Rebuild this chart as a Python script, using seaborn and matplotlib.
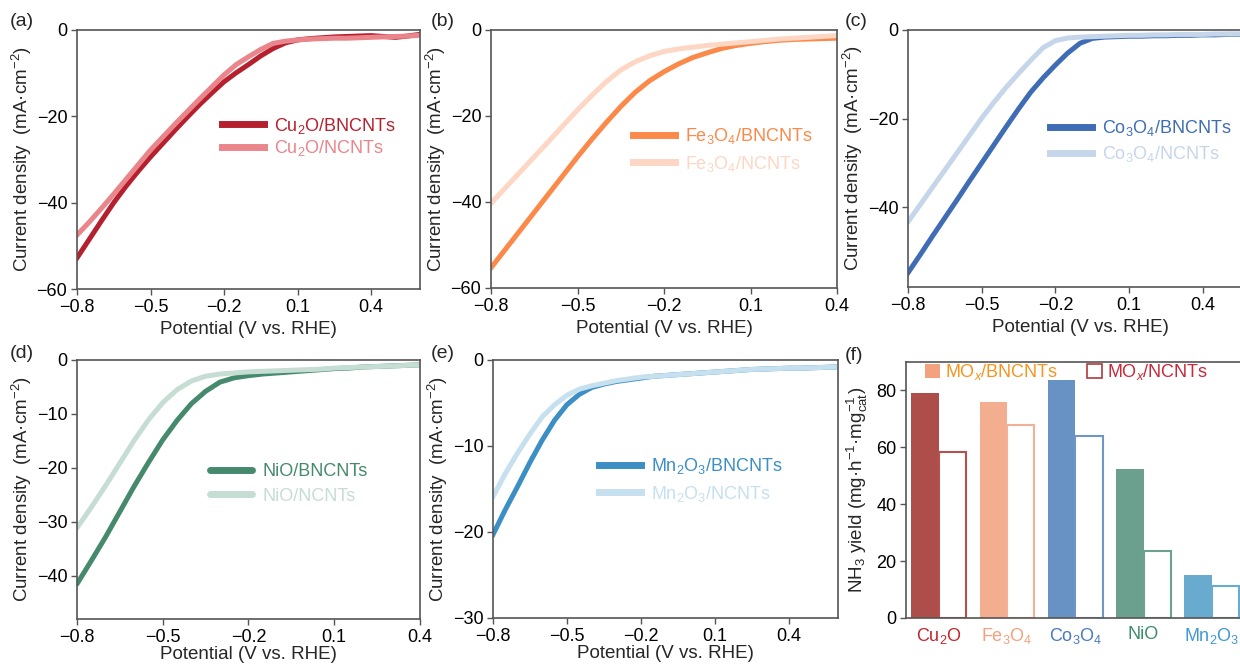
import numpy as np
import pandas as pd
import matplotlib
matplotlib.use("Agg")
import matplotlib.pyplot as plt
import seaborn as sns
from matplotlib.patches import Patch

# ---------------- data ----------------
POT_WIDE = [-0.80, -0.75, -0.70, -0.65, -0.60, -0.55, -0.50, -0.45, -0.40, -0.35,
            -0.30, -0.25, -0.20, -0.15, -0.10, -0.05, 0.00, 0.05, 0.10, 0.15,
            0.20, 0.25, 0.30, 0.35, 0.40, 0.45, 0.50, 0.55, 0.60]
POT_NARROW = [-0.80, -0.75, -0.70, -0.65, -0.60, -0.55, -0.50, -0.45, -0.40, -0.35,
              -0.30, -0.25, -0.20, -0.15, -0.10, -0.05, 0.00, 0.05, 0.10, 0.15,
              0.20, 0.25, 0.30, 0.35, 0.40]

CU_BN = [-52.8, -48.5, -44.2, -40.0, -36.2, -32.7, -29.4, -26.3, -23.2, -20.2,
         -17.3, -14.6, -12.0, -9.9, -8.0, -6.0, -4.3, -3.0, -2.3, -2.0,
         -1.8, -1.6, -1.5, -1.4, -1.3, -1.5, -1.7, -1.4, -1.0]
CU_N = [-47.5, -44.5, -41.3, -38.0, -34.6, -31.2, -27.8, -24.8, -21.8, -18.9,
        -16.0, -13.2, -10.4, -8.0, -6.2, -4.5, -3.1, -2.6, -2.3, -2.1,
        -2.0, -1.9, -1.9, -1.8, -1.7, -1.6, -1.5, -1.4, -1.2]

FE_BN = [-55.3, -51.0, -46.7, -42.4, -38.1, -33.8, -29.5, -25.4, -21.5, -17.8,
         -14.5, -11.8, -9.7, -7.9, -6.4, -5.3, -4.3, -3.6, -3.1, -2.7,
         -2.4, -2.2, -2.1, -2.0, -1.9]
FE_N = [-40.3, -36.7, -33.1, -29.5, -25.9, -22.2, -18.6, -15.2, -12.0, -9.3,
        -7.4, -6.0, -5.0, -4.4, -4.0, -3.6, -3.3, -3.0, -2.7, -2.4,
        -2.1, -1.9, -1.7, -1.5, -1.3]

CO_BN = [-54.8, -50.7, -46.5, -42.4, -38.3, -34.1, -30.0, -25.9, -21.8, -17.8,
         -14.0, -10.8, -7.9, -5.2, -3.0, -1.9, -1.6, -1.5, -1.4, -1.4,
         -1.3, -1.3, -1.2, -1.2, -1.1, -1.1, -1.0, -1.0, -1.0]
CO_N = [-43.3, -39.4, -35.5, -31.6, -27.7, -23.8, -19.9, -16.3, -12.9, -9.8,
        -6.8, -4.0, -2.4, -1.8, -1.6, -1.5, -1.4, -1.3, -1.2, -1.2,
        -1.1, -1.1, -1.0, -1.0, -1.0, -0.9, -0.9, -0.9, -0.8]

NI_BN = [-41.5, -37.2, -32.8, -28.1, -23.4, -19.0, -14.8, -11.2, -8.1, -5.8,
         -4.1, -3.3, -2.9, -2.6, -2.4, -2.2, -2.0, -1.8, -1.6, -1.5,
         -1.3, -1.2, -1.1, -1.0, -0.9]
NI_N = [-31.1, -27.3, -23.3, -19.1, -14.9, -11.1, -7.9, -5.5, -3.9, -3.0,
        -2.6, -2.4, -2.2, -2.1, -2.0, -1.9, -1.8, -1.7, -1.5, -1.4,
        -1.3, -1.2, -1.1, -1.0, -0.9]

MN_BN = [-20.3, -17.4, -14.7, -11.9, -9.3, -7.0, -5.2, -4.0, -3.2, -2.8,
         -2.5, -2.3, -2.1, -1.9, -1.8, -1.7, -1.6, -1.5, -1.4, -1.3,
         -1.2, -1.1, -1.05, -1.0, -0.95, -0.95, -0.9, -0.85, -0.8]
MN_N = [-15.9, -13.2, -10.8, -8.6, -6.6, -5.2, -4.1, -3.4, -3.0, -2.7,
        -2.4, -2.2, -2.0, -1.9, -1.8, -1.7, -1.6, -1.5, -1.4, -1.3,
        -1.2, -1.1, -1.05, -1.0, -0.95, -0.95, -0.9, -0.85, -0.8]

OXIDES = ["Cu$_\\mathregular{2}$O", "Fe$_\\mathregular{3}$O$_\\mathregular{4}$",
          "Co$_\\mathregular{3}$O$_\\mathregular{4}$", "NiO",
          "Mn$_\\mathregular{2}$O$_\\mathregular{3}$"]
YIELD_BN = [79.0, 76.0, 83.5, 52.5, 15.0]
YIELD_N = [58.5, 67.7, 64.1, 23.6, 11.3]

# ---------------- style ----------------
sns.set_theme(style="ticks")
plt.rcParams["font.family"] = ["Liberation Sans", "DejaVu Sans"]
plt.rcParams["mathtext.fontset"] = "custom"
plt.rcParams["mathtext.rm"] = "Liberation Sans"
plt.rcParams["mathtext.it"] = "Liberation Sans:italic"
plt.rcParams["mathtext.bf"] = "Liberation Sans:bold"
plt.rcParams["axes.unicode_minus"] = True

W, H = 1240, 665
fig = plt.figure(figsize=(W / 100, H / 100), dpi=100)
SPINE = "#555555"
FS = 13
LFS = 13.5


def add_ax(l, t, r, b):
    return fig.add_axes([l / W, 1 - b / H, (r - l) / W, (b - t) / H])


def style_ax(ax):
    for s in ["left", "bottom", "top", "right"]:
        ax.spines[s].set_color(SPINE)
        ax.spines[s].set_linewidth(1.2)
    ax.tick_params(direction="out", length=4, width=1.0, color=SPINE,
                   labelsize=FS, labelcolor="black", pad=3)


def curve_panel(ax, pot, bn, n, names, colors, xlim, ylim, xt, yt,
                leg_xy, lspace, xlabelpad=4, cap="projecting"):
    df = pd.DataFrame({
        "Potential": list(pot) + list(pot),
        "j": list(bn) + list(n),
        "Sample": [names[0]] * len(pot) + [names[1]] * len(pot),
    })
    sns.lineplot(data=df, x="Potential", y="j", hue="Sample",
                 hue_order=names, palette=dict(zip(names, colors)),
                 linewidth=3.6, errorbar=None, ax=ax,
                 solid_capstyle=cap, solid_joinstyle="round")
    ax.set_xlim(*xlim)
    ax.set_ylim(*ylim)
    ax.set_xticks(xt)
    ax.set_xticklabels([f"{v:.1f}".replace("-", "\u2212") for v in xt])
    ax.set_yticks(yt)
    ax.set_yticklabels([f"{v:d}".replace("-", "\u2212") for v in yt])
    ax.set_xlabel("Potential (V vs. RHE)", fontsize=LFS, labelpad=xlabelpad)
    ax.set_ylabel("Current density  (mA\u00b7cm$^{\\mathregular{-2}}$)",
                  fontsize=LFS, labelpad=2)
    style_ax(ax)
    handles, labels = ax.get_legend_handles_labels()
    leg = ax.legend(handles, labels, loc="center left",
                    bbox_to_anchor=(leg_xy[0] / W, 1 - leg_xy[1] / H),
                    bbox_transform=fig.transFigure, frameon=False,
                    fontsize=FS, handlelength=2.3, handletextpad=0.6,
                    borderpad=0, borderaxespad=0, labelspacing=lspace)
    for t, c in zip(leg.get_texts(), colors):
        t.set_color(c)
    for ln in leg.get_lines():
        ln.set_linewidth(5)
        ln.set_solid_capstyle(cap)


XT = [-0.8, -0.5, -0.2, 0.1, 0.4]

# (a)
ax_a = add_ax(77, 30, 420, 289)
curve_panel(ax_a, POT_WIDE, CU_BN, CU_N,
            ["Cu$_\\mathregular{2}$O/BNCNTs", "Cu$_\\mathregular{2}$O/NCNTs"],
            ["#b5202e", "#e9858b"], (-0.8, 0.6), (-60, 0), XT,
            [0, -20, -40, -60], (222, 137), 0.15)

# (b)
ax_b = add_ax(491, 30, 837, 288)
curve_panel(ax_b, POT_NARROW, FE_BN, FE_N,
            ["Fe$_\\mathregular{3}$O$_\\mathregular{4}$/BNCNTs",
             "Fe$_\\mathregular{3}$O$_\\mathregular{4}$/NCNTs"],
            ["#fb8a4a", "#fdd6c4"], (-0.8, 0.4), (-60, 0), XT,
            [0, -20, -40, -60], (633, 150), 0.4)

# (c)
ax_c = add_ax(908, 30, 1252, 287)
curve_panel(ax_c, POT_WIDE, CO_BN, CO_N,
            ["Co$_\\mathregular{3}$O$_\\mathregular{4}$/BNCNTs",
             "Co$_\\mathregular{3}$O$_\\mathregular{4}$/NCNTs"],
            ["#3f6db5", "#c6d6ea"], (-0.8, 0.6), (-58, 0), XT,
            [0, -20, -40], (1050, 141), 0.35)

# (d)
ax_d = add_ax(77, 360, 420, 619)
curve_panel(ax_d, POT_NARROW, NI_BN, NI_N,
            ["NiO/BNCNTs", "NiO/NCNTs"],
            ["#458a6d", "#c5ddd3"], (-0.8, 0.4), (-48, 0), XT,
            [0, -10, -20, -30, -40], (210, 484), 0.4, xlabelpad=0,
            cap="round")

# (e)
ax_e = add_ax(493, 360, 838, 618)
curve_panel(ax_e, POT_WIDE, MN_BN, MN_N,
            ["Mn$_\\mathregular{2}$O$_\\mathregular{3}$/BNCNTs",
             "Mn$_\\mathregular{2}$O$_\\mathregular{3}$/NCNTs"],
            ["#3b8fc4", "#c6e0ef"], (-0.8, 0.6), (-30, 0), XT,
            [0, -10, -20, -30], (599, 480), 0.4, xlabelpad=0)

# (f)
ax_f = add_ax(906, 362, 1250, 618)
fill_cols = ["#ad4e4a", "#f3ae90", "#6891c4", "#6ba08e", "#68abcf"]
edge_cols = ["#b4514e", "#f4b096", "#6e96c8", "#6ca18f", "#6aaccf"]
tick_cols = ["#c1272d", "#f6a07d", "#4a78c0", "#3b8d69", "#3e9ad2"]
df_f = pd.DataFrame({
    "oxide": OXIDES + OXIDES,
    "yield": YIELD_BN + YIELD_N,
    "support": ["BNCNTs"] * 5 + ["NCNTs"] * 5,
})
sns.barplot(data=df_f, x="oxide", y="yield", hue="support",
            order=OXIDES, hue_order=["BNCNTs", "NCNTs"], width=0.8,
            saturation=1, errorbar=None, legend=False, ax=ax_f)
bars = list(ax_f.patches)
for i, p in enumerate(bars[:5]):
    p.set_facecolor(fill_cols[i])
    p.set_edgecolor("none")
for i, p in enumerate(bars[5:10]):
    p.set_facecolor("white")
    p.set_edgecolor(edge_cols[i])
    p.set_linewidth(1.5)
ax_f.set_xlim(-0.48, 4.56)
ax_f.set_ylim(0, 90)
ax_f.set_yticks([0, 20, 40, 60, 80])
ax_f.set_xlabel("")
ax_f.set_ylabel("NH$_\\mathregular{3}$ yield (mg\u00b7h$^{\\mathregular{-1}}$\u00b7mg$_{\\mathregular{cat}}^{\\mathregular{-1}}$)",
                fontsize=LFS, labelpad=4)
style_ax(ax_f)
ax_f.tick_params(axis="x", length=0, pad=6)
for t, c in zip(ax_f.get_xticklabels(), tick_cols):
    t.set_color(c)
leg_f = ax_f.legend(
    [Patch(facecolor="#f3a27f", edgecolor="none"),
     Patch(facecolor="white", edgecolor="#b03a40", linewidth=1.2)],
    ["MO$_x$/BNCNTs", "MO$_x$/NCNTs"],
    loc="center left", bbox_to_anchor=(925 / W, 1 - 372 / H),
    bbox_transform=fig.transFigure, ncol=2, frameon=False, fontsize=FS,
    handlelength=0.85, handleheight=0.85, handletextpad=0.25,
    columnspacing=1.6, borderpad=0, borderaxespad=0)
for t, c in zip(leg_f.get_texts(), ["#f7941d", "#c8283a"]):
    t.set_color(c)

# panel labels
for lab, x, y in [("(a)", 10, 22), ("(b)", 431, 22), ("(c)", 845, 22),
                  ("(d)", 10, 353), ("(e)", 431, 353), ("(f)", 845, 355)]:
    fig.text(x / W, 1 - y / H, lab, fontsize=14, ha="left", va="center")

fig.savefig("out.png", dpi=100)
